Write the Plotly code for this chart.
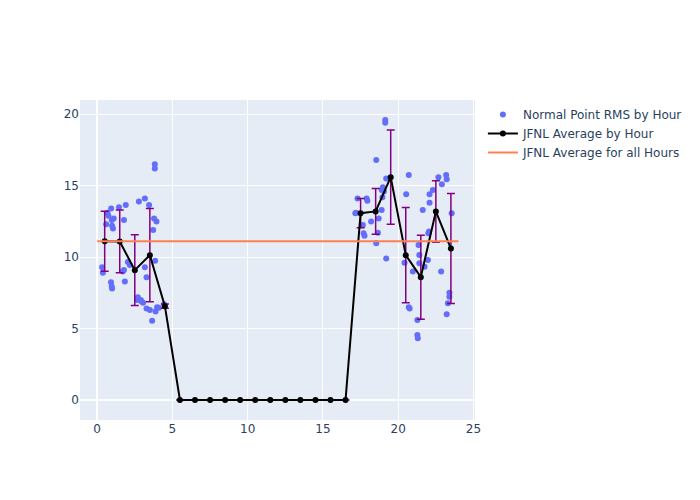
import plotly.graph_objects as go

# normal point RMS values, by hour of day
point_hours = [0.33, 0.38, 0.6, 0.68, 0.75, 0.92, 0.97, 0.99, 0.93, 0.97, 0.99,
               1.05, 1.1, 1.45, 1.9, 1.78, 1.78, 1.84, 1.7,
               2.04, 2.17, 2.65, 2.7, 2.77, 2.9, 2.95,
               3.05, 3.17, 3.17, 3.28, 3.28, 3.45, 3.5, 3.65, 3.72, 3.78, 3.83, 3.83, 3.85, 3.88, 3.94, 3.98,
               4.1, 4.45,
               17.15, 17.2, 17.3, 17.65, 17.7, 17.76, 17.9, 17.95,
               18.2, 18.54, 18.54, 18.65, 18.7, 18.9, 18.9, 18.95, 18.98,
               19.05, 19.14, 19.14, 19.2, 19.2,
               20.42, 20.53, 20.7, 20.7, 20.76, 20.97,
               21.27, 21.3, 21.27, 21.35, 21.4, 21.4, 21.63, 21.75, 21.97,
               22.0, 22.05, 22.08, 22.08, 22.3, 22.67, 22.85, 22.9,
               23.18, 23.22, 23.55, 23.4, 23.4, 23.3, 23.22]
point_rms = [9.3, 8.9, 12.3, 13.1, 12.9, 8.25, 7.95, 7.8, 13.4, 12.6, 12.2,
             12.0, 12.7, 13.5, 13.65, 12.6, 9.1, 8.3, 9.0,
             9.66, 9.45, 7.0, 7.2, 13.9, 7.0, 6.9,
             6.8, 14.1, 9.3, 8.6, 6.4, 13.65, 6.3, 5.55, 11.9, 12.7, 16.5, 16.2, 9.75, 6.2, 12.5, 6.5,
             6.45, 6.7,
             13.07, 13.1, 14.1, 12.25, 11.67, 11.5, 14.1, 13.95,
             12.5, 16.8, 10.97, 11.7, 12.7, 13.3, 14.7, 14.2, 14.9,
             14.6, 19.6, 19.4, 15.5, 9.9,
             9.6, 14.4, 15.75, 6.5, 6.4, 9.0,
             4.55, 4.32, 5.6, 10.85, 10.15, 9.57, 13.3, 9.33, 9.8,
             11.67, 11.8, 13.8, 14.4, 14.7, 15.6, 9.0, 15.1,
             15.75, 15.45, 13.07, 7.5, 7.23, 6.77, 6.0]

# hourly averages and spread
avg_hours = [h + 0.5 for h in range(24)]
avg_rms = [11.12, 11.1, 9.09, 10.14, 6.57, 0, 0, 0, 0, 0, 0, 0,
           0, 0, 0, 0, 0, 13.08, 13.2, 15.6, 10.14, 8.6, 13.2, 10.6]
avg_std = [2.1, 2.2, 2.48, 3.27, 0.15, 0, 0, 0, 0, 0, 0, 0,
           0, 0, 0, 0, 0, 1.03, 1.6, 3.3, 3.33, 2.94, 2.15, 3.85]

overall_avg = 11.12

fig = go.Figure()
fig.add_trace(go.Scatter(x=point_hours, y=point_rms, mode='markers',
                         marker=dict(color='#636EFA', size=6),
                         name='Normal Point RMS by Hour'))
fig.add_trace(go.Scatter(x=avg_hours, y=avg_rms, mode='lines+markers',
                         line=dict(color='black', width=2),
                         marker=dict(color='black', size=6),
                         error_y=dict(type='data', array=avg_std, visible=True,
                                      color='purple', thickness=1.5, width=4),
                         name='JFNL Average by Hour'))
fig.add_trace(go.Scatter(x=[0, 24], y=[overall_avg, overall_avg], mode='lines',
                         line=dict(color='coral', width=2),
                         name='JFNL Average for all Hours'))

# the page adds 8px of body margin, so margins are trimmed to compensate
fig.update_layout(width=700, height=500,
                  font=dict(family='DejaVu Sans'),
                  margin=dict(l=72, r=233, t=92, b=88),
                  xaxis=dict(range=[-1.14, 25.1]),
                  yaxis=dict(range=[-1.4, 21]))
fig.write_html("out.html")
